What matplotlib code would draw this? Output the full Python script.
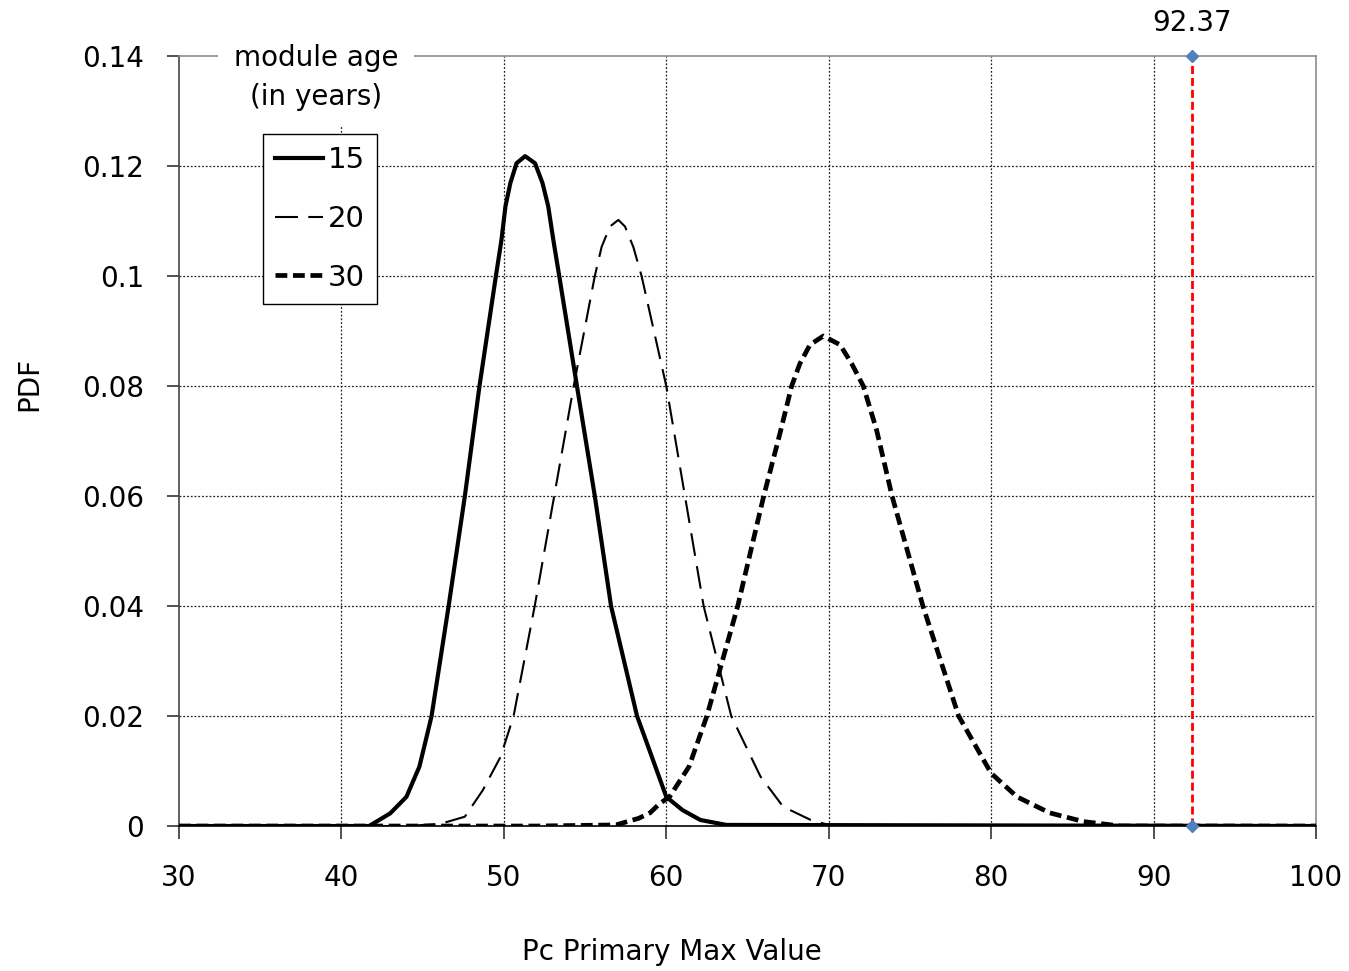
import matplotlib
matplotlib.use("Agg")
import matplotlib.pyplot as plt
from matplotlib.ticker import FixedLocator, FixedFormatter

# values
age15_x = [30, 41.7, 43.0, 44.0, 44.8, 45.3, 45.55, 46.6, 47.6, 48.5, 49.51, 49.85, 50.1, 50.4, 50.78,
           51.31, 51.92, 52.38, 52.73, 53.05, 53.41, 54.5, 55.6, 56.6, 58.2, 59.0, 60.0, 61.0, 62.1, 63.7, 100]
age15_y = [0, 0, 0.0023, 0.0053, 0.0108, 0.0169, 0.02, 0.04, 0.06, 0.08, 0.10, 0.1065, 0.1127, 0.1169, 0.1205,
           0.1218, 0.1205, 0.1169, 0.1127, 0.1065, 0.10, 0.08, 0.06, 0.04, 0.02, 0.0135, 0.0053, 0.0029, 0.0011,
           0.0002, 0]

age20_x = [30, 44, 46.1, 47.6, 48.7, 49.8, 50.6, 51.9, 53.1, 54.3, 55.6, 56.02, 56.53, 57.05,
           57.46, 57.97, 58.48, 60.0, 61.15, 62.3, 64.0, 65.8, 67.2, 68.9, 70.0, 100]
age20_y = [0, 0, 0.0004, 0.0017, 0.0065, 0.0126, 0.02, 0.04, 0.06, 0.08, 0.10, 0.1053, 0.109, 0.1102,
           0.109, 0.1053, 0.10, 0.08, 0.06, 0.04, 0.02, 0.009, 0.0035, 0.0011, 0.0002, 0]

age30_x = [30, 52, 56.9, 58.3, 59.0, 59.6, 60.2, 61.4, 62.5, 64.4, 66.0, 67.0, 67.72, 68.23, 68.85, 69.67,
           70.7, 71.41, 72.13, 72.95, 73.9, 75.8, 78.0, 80.0, 81.6, 83.6, 85.7, 88.0, 100]
age30_y = [0, 0, 0.0002, 0.0014, 0.0024, 0.0041, 0.0053, 0.0108, 0.02, 0.04, 0.06, 0.0714, 0.08, 0.0841, 0.0875,
           0.0891, 0.0875, 0.0841, 0.08, 0.072, 0.06, 0.04, 0.02, 0.0096, 0.0053, 0.0024, 0.0008, 0, 0]

limit_x = 92.37
x_ticks = [30, 40, 50, 60, 70, 80, 90, 100]
y_ticks = [0, 0.02, 0.04, 0.06, 0.08, 0.1, 0.12, 0.14]
y_labels = ["0", "0.02", "0.04", "0.06", "0.08", "0.1", "0.12", "0.14"]

fig = plt.figure(figsize=(13.49, 9.71), dpi=100)
ax = fig.add_axes([0.1327, 0.1493, 0.9755 - 0.1327, 0.9423 - 0.1493])

ax.set_xlim(30, 100)
ax.set_ylim(0, 0.14)

# grid, dotted
for xv in x_ticks[1:-1]:
    ax.axvline(xv, color="#222222", lw=0.9, ls=(0, (1.5, 1.5)), zorder=1)
for yv in y_ticks[1:-1]:
    ax.axhline(yv, color="#222222", lw=0.9, ls=(0, (1.5, 1.5)), zorder=1)

ax.plot(age15_x, age15_y, color="black", lw=3.0, label="15", zorder=4)
ax.plot(age20_x, age20_y, color="black", lw=1.5, dashes=(11, 5), label="20", zorder=3)
ax.plot(age30_x, age30_y, color="black", lw=3.4, dashes=(2.5, 1.2), label="30", zorder=3)

ax.plot([limit_x, limit_x], [0, 0.14], color="red", lw=2, dashes=(2.9, 1.4), zorder=5, clip_on=False)
ax.plot([limit_x, limit_x], [0, 0.14], ls="none", marker="D", ms=6, color="#4F81BD", zorder=6, clip_on=False)
ax.annotate("92.37", xy=(limit_x, 0.14), xytext=(0, 33), textcoords="offset pixels",
            ha="center", va="center", fontsize=20)

ax.xaxis.set_major_locator(FixedLocator(x_ticks))
ax.yaxis.set_major_locator(FixedLocator(y_ticks))
ax.yaxis.set_major_formatter(FixedFormatter(y_labels))
ax.tick_params(axis="both", direction="out", length=9, width=1.2, labelsize=20, pad=16, color="#333333")
ax.tick_params(axis="x", pad=18)

for s in ["top", "right"]:
    ax.spines[s].set_color("#8c8c8c")
    ax.spines[s].set_linewidth(1.2)
ax.spines["left"].set_color("#444444")
ax.spines["left"].set_linewidth(1.2)
ax.spines["bottom"].set_color("black")
ax.spines["bottom"].set_linewidth(1.2)

leg = ax.legend(loc="upper left", bbox_to_anchor=(0.0739, 0.8987), borderaxespad=0,
                fontsize=21, handlelength=1.65, handletextpad=0.15, labelspacing=1.05,
                borderpad=0.42, fancybox=False, framealpha=1, edgecolor="black")
leg.get_frame().set_linewidth(1.0)
leg.set_zorder(10)

ax.text(0.1205, 0.972, "module age\n(in years)", transform=ax.transAxes, ha="center", va="center",
        fontsize=20, linespacing=1.5, zorder=10, clip_on=False,
        bbox=dict(boxstyle="square,pad=0.55", fc="white", ec="none"))

fig.text(0.498, 0.0196, "Pc Primary Max Value", ha="center", va="center", fontsize=20)
fig.text(0.022, 0.605, "PDF", ha="center", va="center", rotation=90, fontsize=20)

fig.savefig("out.png", dpi=100)
